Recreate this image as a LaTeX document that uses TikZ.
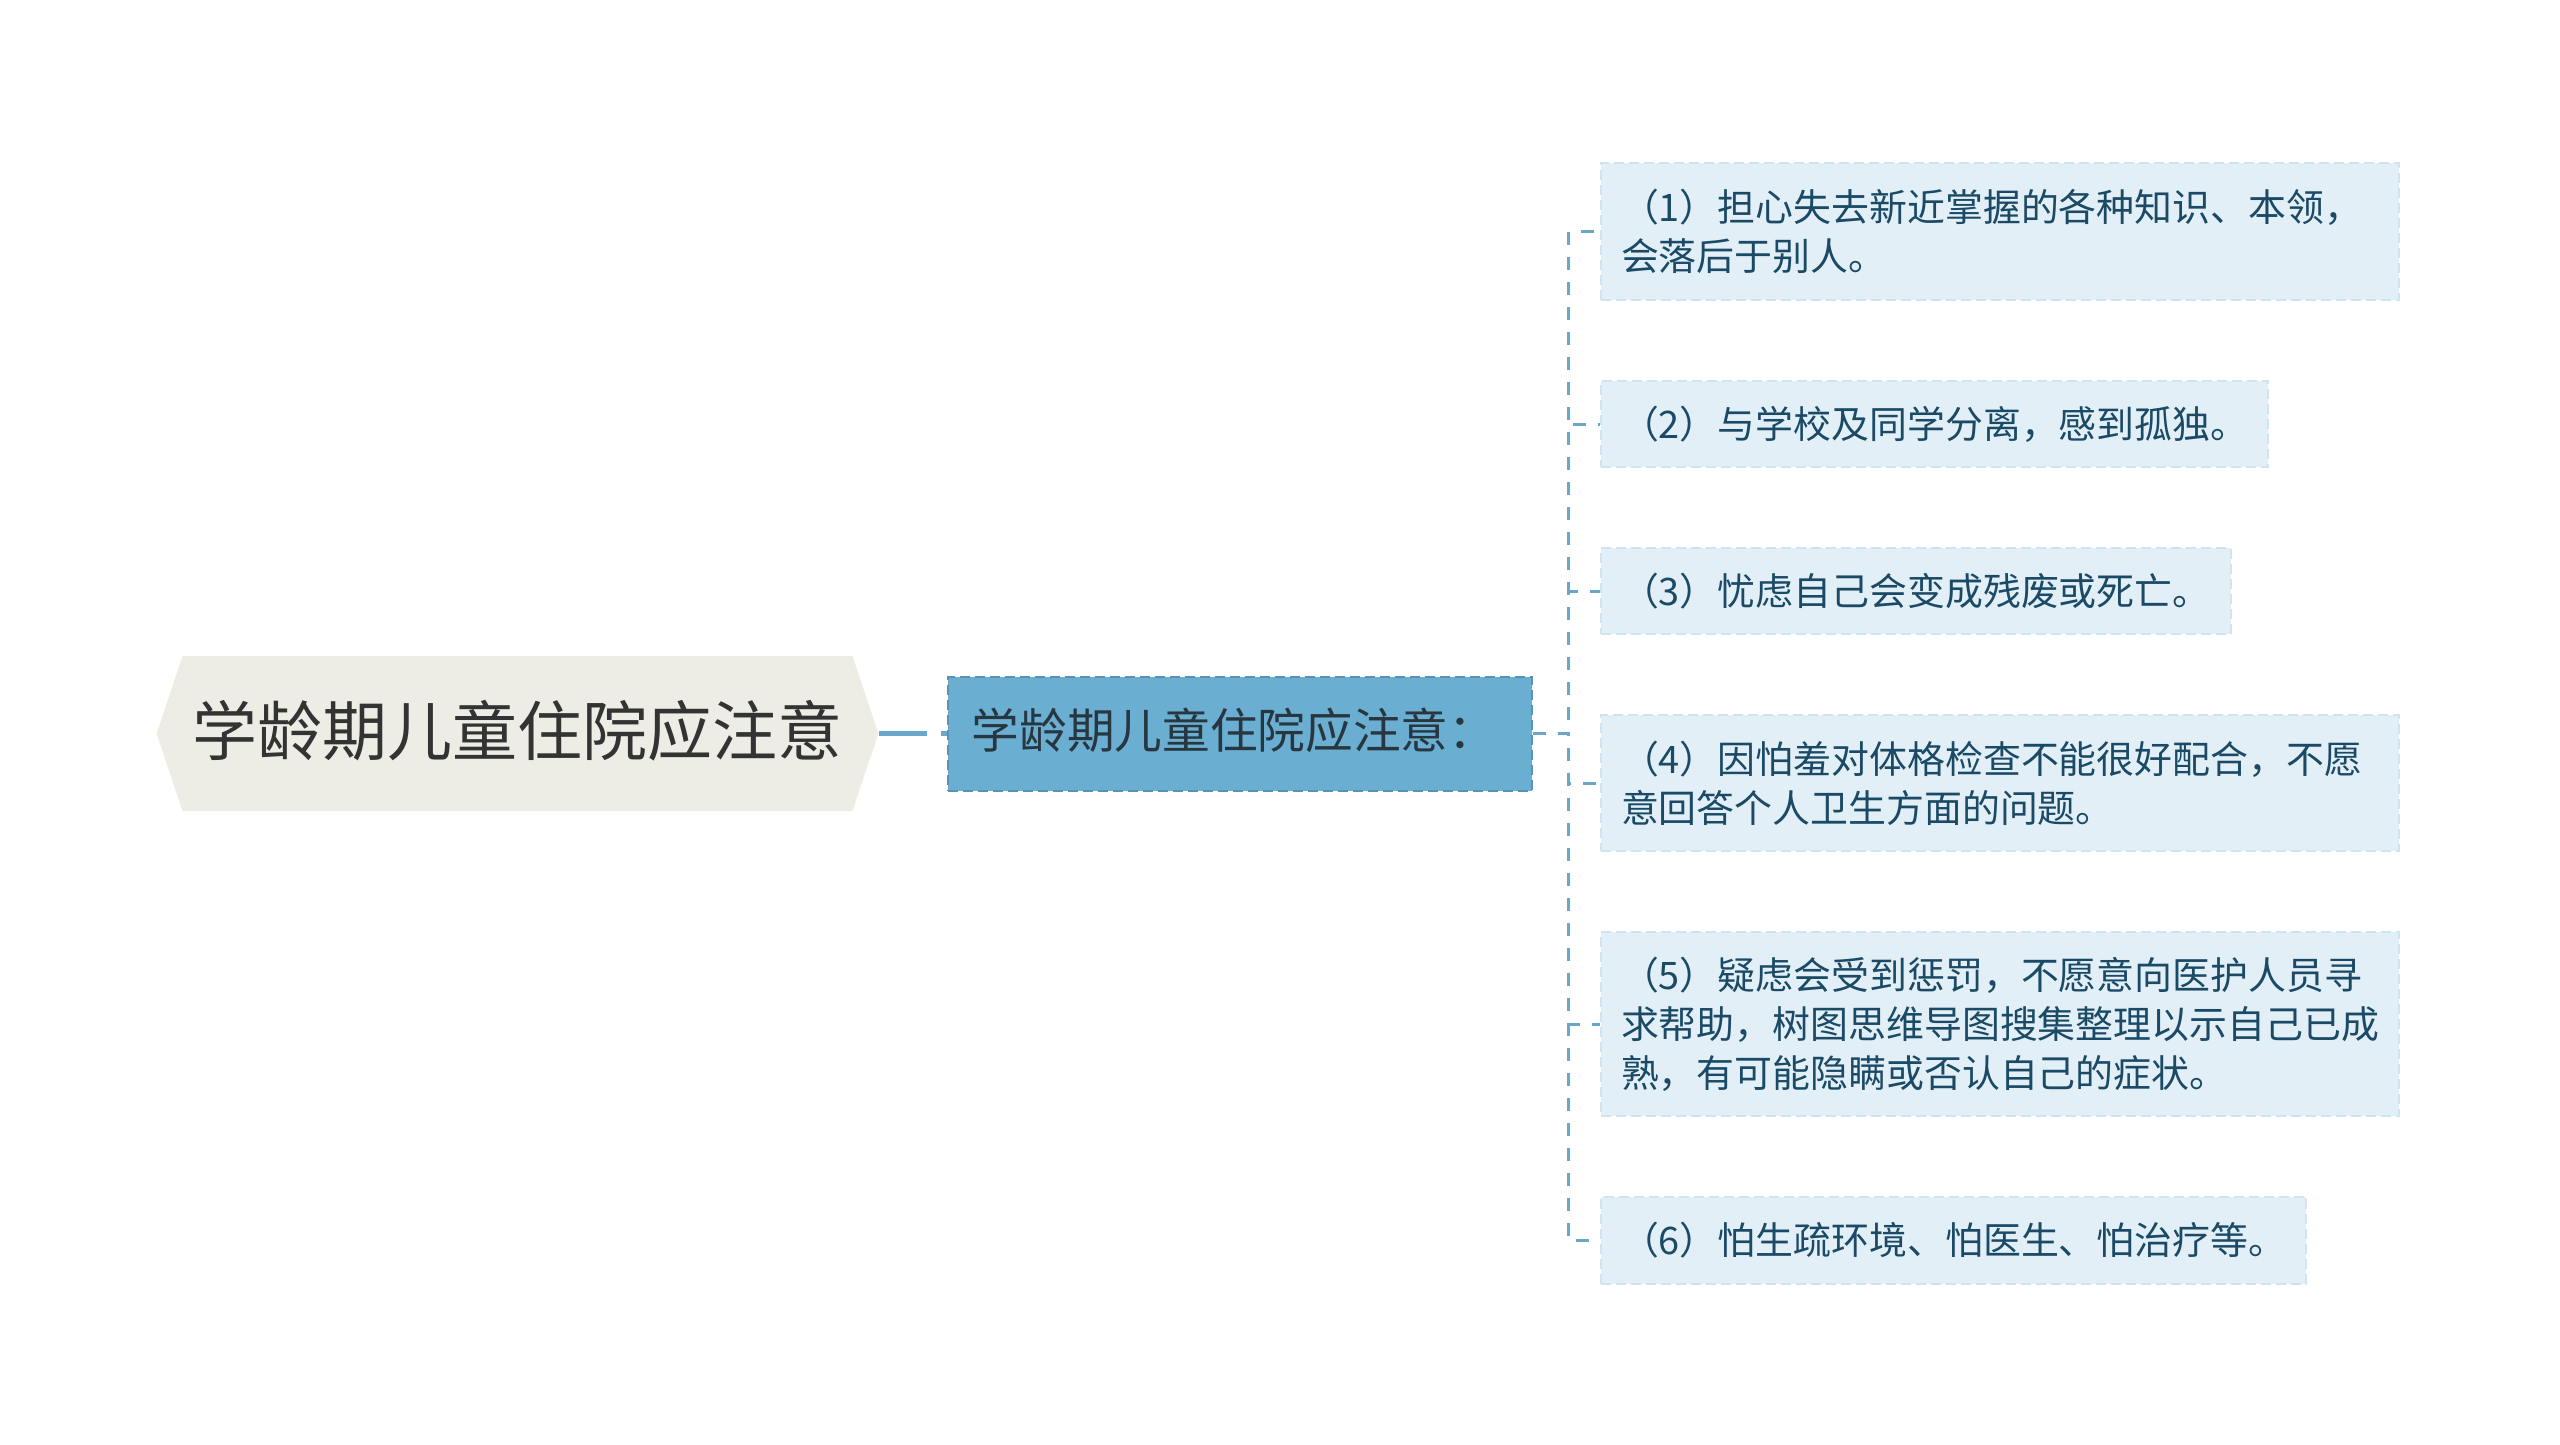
\documentclass[tikz,border=0pt]{standalone}
\usepackage{fontspec}
\setmainfont{Noto Sans CJK SC}
\usetikzlibrary{positioning,shapes.symbols}

\definecolor{rootfill}{HTML}{EEEDE5}
\definecolor{roottext}{HTML}{333333}
\definecolor{midfill}{HTML}{6AAED2}
\definecolor{midline}{HTML}{5893B6}
\definecolor{midtext}{HTML}{27363F}
\definecolor{itemfill}{HTML}{E2EFF7}
\definecolor{itemline}{HTML}{CFE3F0}
\definecolor{itemtext}{HTML}{1B4A66}
\definecolor{linkcol}{HTML}{6AA8CB}

\begin{document}
\begin{tikzpicture}[x=1pt, y=-1pt, node distance=79pt,
  rootbox/.style={signal, signal to=west and east, signal pointer angle=143, fill=rootfill, text=roottext, font=\fontsize{65}{78}\selectfont, text height=52pt, text depth=8pt, inner xsep=10pt, inner ysep=47.5pt},
  midbox/.style={draw=midline, fill=midfill, text=midtext, dash pattern=on 10pt off 5pt, line width=2pt, font=\fontsize{47.7}{57}\selectfont, text height=38pt, text depth=9pt, text width=536pt, align=left, inner xsep=24pt, inner ysep=0pt, minimum height=114pt},
  itembox/.style={draw=itemline, fill=itemfill, text=itemtext, dash pattern=on 10pt off 5pt, line width=2pt, font=\fontsize{37.9}{49}\selectfont, align=left, inner xsep=20pt, inner ysep=0pt, minimum height=86pt},
  trunk/.style={draw=linkcol, line width=5pt, dash pattern=on 48pt off 14pt},
  branch/.style={draw=linkcol, line width=3pt, dash pattern=on 13pt off 12pt}]

  \useasboundingbox (0,0) rectangle (2560,1445);

  % root and topic
  \node[rootbox] (root) at (517.5,733.5) {学龄期儿童住院应注意};
  \node[midbox, right=68pt of root] (topic) {学龄期儿童住院应注意：};
  \coordinate[right=36pt of topic.east] (fork);

  % items
  \node[itembox, text width=758pt, minimum height=137pt, anchor=north west] (c1) at (1600,162)
    {（1）担心失去新近掌握的各种知识、本领，\\会落后于别人。};
  \node[itembox, below=of c1.south west, anchor=north west] (c2) {（2）与学校及同学分离，感到孤独。};
  \node[itembox, below=of c2.south west, anchor=north west] (c3) {（3）忧虑自己会变成残废或死亡。};
  \node[itembox, text width=758pt, minimum height=136pt, below=of c3.south west, anchor=north west] (c4)
    {（4）因怕羞对体格检查不能很好配合，不愿\\意回答个人卫生方面的问题。};
  \node[itembox, text width=758pt, minimum height=184pt, below=of c4.south west, anchor=north west] (c5)
    {（5）疑虑会受到惩罚，不愿意向医护人员寻\\求帮助，树图思维导图搜集整理以示自己已成\\熟，有可能隐瞒或否认自己的症状。};
  \node[itembox, minimum height=87pt, below=of c5.south west, anchor=north west] (c6) {（6）怕生疏环境、怕医生、怕治疗等。};

  % connectors
  \draw[trunk] (root.east) -- (topic.west);
  \foreach \i in {1,...,6}
    \draw[branch] (topic.east) -- (fork) |- (c\i.west);

\end{tikzpicture}
\end{document}
